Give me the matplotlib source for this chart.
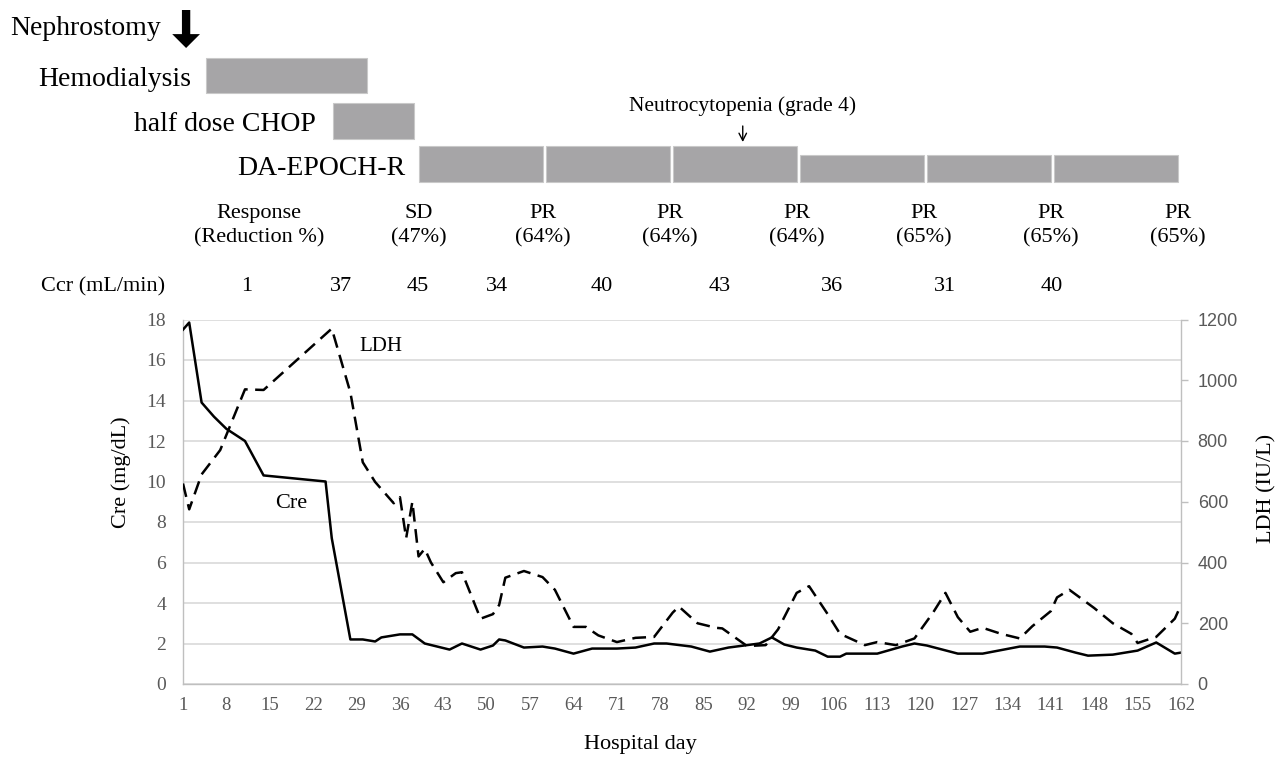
import matplotlib
matplotlib.use('Agg')
import matplotlib.pyplot as plt

# ---------------- data ----------------
cre_days = [1, 2, 4, 6, 8, 11, 14, 24, 25, 28, 30, 32, 33, 36, 38, 40, 42, 44, 46, 49,
            51, 52, 53, 56, 59, 61, 64, 67, 71, 74, 77, 79, 83, 86, 89, 94, 96, 98, 100,
            103, 105, 107, 108, 113, 117, 119, 121, 126, 130, 136, 140, 142, 145, 147,
            151, 155, 158, 161, 162]
cre_vals = [17.5, 17.85, 13.9, 13.2, 12.6, 12.0, 10.3, 10.0, 7.2, 2.2, 2.2, 2.1, 2.3, 2.45,
            2.45, 2.0, 1.85, 1.7, 2.0, 1.7, 1.9, 2.2, 2.15, 1.8, 1.85, 1.75, 1.5, 1.75,
            1.75, 1.8, 2.0, 2.0, 1.85, 1.6, 1.8, 2.0, 2.3, 1.95, 1.8, 1.65, 1.35, 1.35,
            1.5, 1.5, 1.85, 2.0, 1.9, 1.5, 1.5, 1.85, 1.85, 1.8, 1.55, 1.4, 1.45, 1.65,
            2.05, 1.5, 1.55]

ldh_days = [1, 2, 4, 7, 11, 14, 25, 28, 30, 32, 35, 36, 37, 38, 39, 40, 41, 43, 45, 46,
            49, 51, 52, 53, 56, 59, 61, 64, 66, 68, 71, 74, 77, 80, 81, 84, 87, 88, 92,
            95, 97, 100, 102, 105, 107, 111, 113, 116, 119, 122, 124, 126, 128, 130, 133,
            136, 138, 141, 142, 144, 148, 151, 154, 155, 158, 161, 162]
ldh_vals = [660, 575, 690, 770, 970, 968, 1170, 960, 730, 665, 595, 615, 480, 600, 420,
            445, 400, 335, 365, 368, 215, 230, 260, 350, 372, 352, 310, 188, 188, 160,
            138, 152, 155, 235, 255, 200, 185, 183, 125, 128, 180, 300, 322, 230, 165,
            128, 138, 128, 150, 235, 300, 220, 172, 185, 165, 150, 190, 240, 285, 310,
            250, 200, 165, 135, 155, 215, 260]

x_ticks = list(range(1, 163, 7))
cre_ticks = [0, 2, 4, 6, 8, 10, 12, 14, 16, 18]
ldh_ticks = [0, 200, 400, 600, 800, 1000, 1200]

nephrostomy_day = 1.5
hemodialysis_period = (4.7, 30.7)
chop_period = (25.2, 38.3)
epoch_starts = [39.0, 59.5, 80.0, 100.5, 121.0, 141.5]
epoch_ends = [59.0, 79.5, 100.0, 120.5, 141.0, 161.5]
epoch_dose = [1.0, 1.0, 1.0, 0.75, 0.75, 0.75]
neutro_day = 91.3

response_days = [39, 59, 79.5, 100, 120.5, 141, 161.5]
response_class = ['SD', 'PR', 'PR', 'PR', 'PR', 'PR', 'PR']
response_pct = [47, 64, 64, 64, 65, 65, 65]

ccr_days = [11.2, 26.5, 38.9, 51.7, 68.5, 87.6, 105.7, 123.9, 141.2]
ccr_vals = [1, 37, 45, 34, 40, 43, 36, 31, 40]

# ---------------- layout ----------------
SERIF = ['Liberation Serif', 'DejaVu Serif']
SANS = ['Liberation Sans', 'DejaVu Sans']
GRAY_TXT = '#595959'
GRID = '#d9d9d9'
SPINE = '#bfbfbf'
BAR = '#a6a5a7'

W, H = 1281, 758
L, R, B, T = 183, 1181, 684, 319.5

fig = plt.figure(figsize=(W / 100, H / 100), dpi=100)
fig.patch.set_facecolor('white')

# overlay axes for the treatment timeline (same day scale as the chart)
dpp = (162 - 1) / (R - L)
ax_top = fig.add_axes([0, 0, 1, 1])
ax_top.set_xlim(1 - L * dpp, 162 + (W - R) * dpp)
ax_top.set_ylim(H, 0)
ax_top.axis('off')
ax_top.set_zorder(-1)

ax = fig.add_axes([L / W, 1 - B / H, (R - L) / W, (B - T) / H])
ax.set_zorder(1)
ax2 = ax.twinx()
ax2.set_zorder(2)

# ---------------- main chart ----------------
ax.set_xlim(1, 162)
ax.set_ylim(0, 18)
ax2.set_ylim(0, 1200)

ax.set_xticks(x_ticks)
ax.set_yticks(cre_ticks)
ax2.set_yticks(ldh_ticks)

ax.grid(axis='y', color=GRID, lw=1.2)
ax.grid(axis='x', visible=False)
ax.set_axisbelow(True)

for s in ['top', 'right']:
    ax.spines[s].set_visible(False)
for s in ['left', 'bottom']:
    ax.spines[s].set_color(SPINE)
    ax.spines[s].set_linewidth(1.0)
for s in ['top', 'left', 'bottom']:
    ax2.spines[s].set_visible(False)
ax2.spines['right'].set_color(SPINE)
ax2.spines['right'].set_linewidth(1.0)

ax.tick_params(axis='x', length=0, pad=9, labelsize=13.5, labelcolor=GRAY_TXT)
ax.tick_params(axis='y', length=0, pad=12, labelsize=14, labelcolor=GRAY_TXT)
ax2.tick_params(axis='y', length=5, width=1, color=SPINE, pad=7, labelsize=13,
                labelcolor=GRAY_TXT)
for lab in ax.get_xticklabels() + ax.get_yticklabels():
    lab.set_fontfamily(SERIF)
for lab in ax2.get_yticklabels():
    lab.set_fontfamily(SANS)

ax.plot(cre_days, cre_vals, color='black', lw=1.8, solid_joinstyle='round', zorder=3)
ax2.plot(ldh_days, ldh_vals, color='black', lw=1.8, ls=(0, (5.5, 3)),
         dash_joinstyle='round', dash_capstyle='butt', zorder=3)

ax.text(18.4, 8.9, 'Cre', fontsize=16, family=SERIF, ha='center', va='center')
ax.text(32.9, 16.67, 'LDH', fontsize=15, family=SERIF, ha='center', va='center')

ax.set_ylabel('Cre (mg/dL)', fontsize=16, family=SERIF)
ax.yaxis.set_label_coords(-0.052, 0.58)
ax2.set_ylabel('LDH (IU/L)', fontsize=16, family=SERIF)
ax2.yaxis.set_label_coords(1.076, 0.536)
ax.set_xlabel('Hospital day', fontsize=16, family=SERIF)
ax.xaxis.set_label_coords(0.458, -0.14)

# ---------------- treatment timeline ----------------
BIG = 20
MID = 16
label_gap = 2.4

# Nephrostomy
ax_top.text(nephrostomy_day - 4.0, 35, 'Nephrostomy', fontsize=BIG, family=SERIF,
            ha='right', va='baseline')
ax_top.annotate('', xy=(nephrostomy_day, 48), xytext=(nephrostomy_day, 10),
                arrowprops=dict(arrowstyle='simple,head_length=0.5,head_width=1.0,tail_width=0.3',
                                mutation_scale=20, color='black', lw=0,
                                shrinkA=0, shrinkB=0))

# Hemodialysis
ax_top.broken_barh([(hemodialysis_period[0], hemodialysis_period[1] - hemodialysis_period[0])],
                   (58, 35), facecolor=BAR, edgecolor='#c9c9c9', lw=0.8)
ax_top.text(hemodialysis_period[0] - label_gap, 86, 'Hemodialysis', fontsize=BIG,
            family=SERIF, ha='right', va='baseline')

# half dose CHOP
ax_top.broken_barh([(chop_period[0], chop_period[1] - chop_period[0])],
                   (103, 36), facecolor=BAR, edgecolor='#c9c9c9', lw=0.8)
ax_top.text(chop_period[0] - label_gap - 0.3, 131, 'half dose CHOP', fontsize=BIG,
            family=SERIF, ha='right', va='baseline')

# DA-EPOCH-R cycles
widths = [e - s for s, e in zip(epoch_starts, epoch_ends)]
heights = [-36 * d for d in epoch_dose]
ax_top.bar(epoch_starts, heights, width=widths, bottom=182, align='edge',
           color=BAR, edgecolor='#c9c9c9', lw=0.8)
ax_top.text(epoch_starts[0] - label_gap + 0.3, 175, 'DA-EPOCH-R', fontsize=BIG,
            family=SERIF, ha='right', va='baseline')

# Neutrocytopenia
ax_top.text(neutro_day, 111, 'Neutrocytopenia (grade 4)', fontsize=15.5, family=SERIF,
            ha='center', va='baseline')
ax_top.annotate('', xy=(neutro_day, 142), xytext=(neutro_day, 126),
                arrowprops=dict(arrowstyle='->,head_length=0.35,head_width=0.18',
                                mutation_scale=15, color='black', lw=1.0,
                                shrinkA=0, shrinkB=0))

# Response row
ax_top.text(13.3, 218, 'Response', fontsize=MID, family=SERIF, ha='center', va='baseline')
ax_top.text(13.3, 242, '(Reduction %)', fontsize=MID, family=SERIF, ha='center', va='baseline')
for d, c, p in zip(response_days, response_class, response_pct):
    ax_top.text(d, 218, c, fontsize=MID, family=SERIF, ha='center', va='baseline')
    ax_top.text(d, 242, f'({p}%)', fontsize=MID, family=SERIF, ha='center', va='baseline')

# Ccr row
ax_top.text(-1.9, 291, 'Ccr (mL/min)', fontsize=MID, family=SERIF, ha='right', va='baseline')
for d, v in zip(ccr_days, ccr_vals):
    ax_top.text(d, 291, str(v), fontsize=MID, family=SERIF, ha='center', va='baseline')

fig.savefig('out.png', dpi=100, facecolor='white')
